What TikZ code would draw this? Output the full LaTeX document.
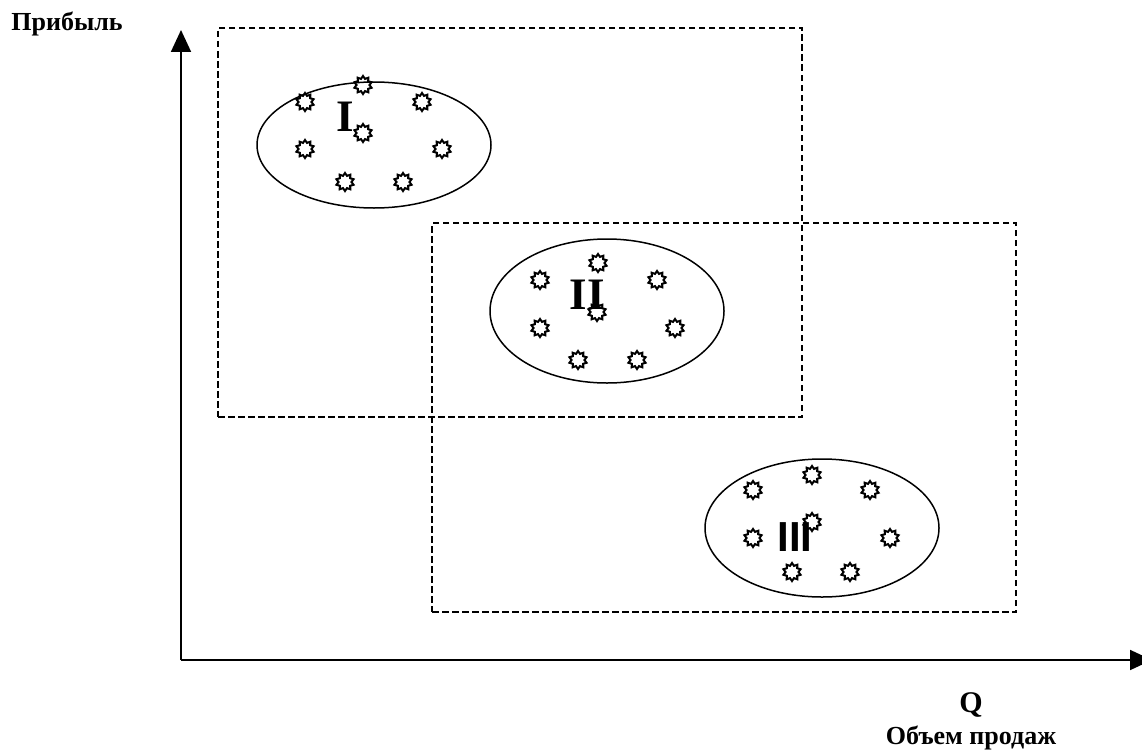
\documentclass[tikz,border=0pt]{standalone}
\usepackage{fontspec}
\setmainfont{Liberation Serif}
\newfontfamily\numsans{Liberation Sans}
\usetikzlibrary{arrows.meta,shapes.geometric}
\begin{document}
\begin{tikzpicture}[x=1pt,y=-1pt,
  axisline/.style={line width=1.8pt,-{Triangle[length=22pt,width=20pt]}},
  zone/.style={draw,rectangle,dash pattern=on 6.5pt off 3.5pt,line width=1.3pt,
    minimum width=584pt,minimum height=389pt,inner sep=0},
  cluster/.style={draw,ellipse,line width=1.5pt,inner sep=0,
    minimum width=234pt},
  firm/.style={star,star points=10,star point ratio=1.4,draw,
    line width=2pt,minimum size=18pt,inner sep=0},
  roman/.style={font=\fontsize{45}{45}\selectfont\bfseries,inner sep=0},
  axlabel/.style={font=\fontsize{26}{30}\selectfont\bfseries,inner sep=0}]
\useasboundingbox (0,0) rectangle (1142,752);

% axes
\coordinate (O) at (181,660);
\coordinate (ytip) at (181,30);
\coordinate (xtip) at (1152,660);
\draw[axisline] (O) -- (ytip);
\draw[axisline] (O) -- (xtip);
\node[axlabel] (ylab) at (67,24) {Прибыль};
\node[font=\fontsize{30}{30}\selectfont\bfseries,inner sep=0] (q) at (971,705) {Q};
\node[axlabel] (xlab) at (971,738) {Объем продаж};

% overlapping zones
\node[zone] (zone1) at (510,222.5) {};
\node[zone] (zone2) at (724,417.5) {};

% clusters
\node[cluster,minimum height=126pt] (c1) at (374,145) {};
\node[cluster,minimum height=144pt] (c2) at (607,311) {};
\node[cluster,minimum height=138pt] (c3) at (822,528) {};

\node[roman] (n1) at (345,117) {I};
\node[roman] (n2) at (587,295) {II};
\node[roman,font=\fontsize{42}{42}\selectfont\bfseries\numsans] (n3) at (795,537) {III};

% firms in each cluster
\foreach \p [count=\i] in {(363,85),(305,102),(422,102),(363,133),(305,149),(442,149),(345,182),(403,182)}
  \node[firm] (a\i) at \p {};
\foreach \p [count=\i] in {(598,263),(540,280),(657,280),(597,312),(540,328),(675,328),(578,360),(637,360)}
  \node[firm] (b\i) at \p {};
\foreach \p [count=\i] in {(812,475),(753,490),(870,490),(812,522),(753,538),(890,538),(792,572),(850,572)}
  \node[firm] (d\i) at \p {};
\end{tikzpicture}
\end{document}
